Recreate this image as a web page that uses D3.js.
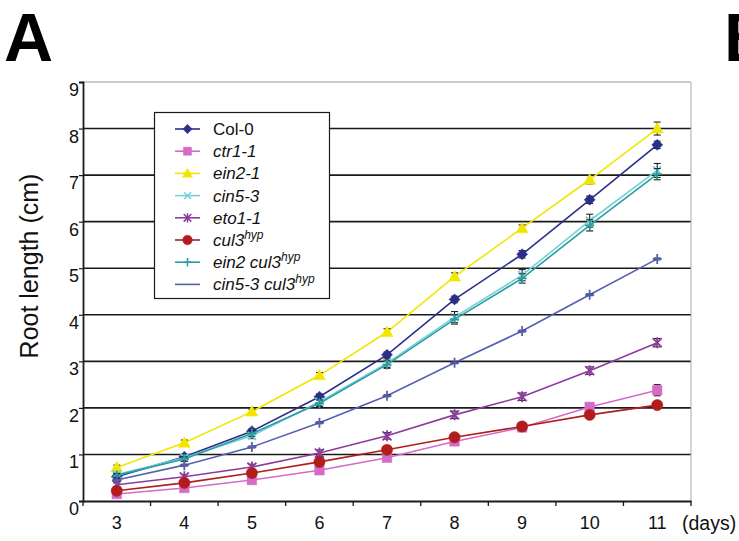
<!DOCTYPE html>
<html><head><meta charset="utf-8">
<script src="https://cdn.jsdelivr.net/npm/d3@7"></script>
<style>body{margin:0;background:#fff}svg{display:block;font-family:"Liberation Sans",Arial,Helvetica,sans-serif}</style>
</head><body><svg width="739" height="541"></svg>
<script>
// ---- data ----
const days = ["3","4","5","6","7","8","9","10","11"];
const yTicks = [0,1,2,3,4,5,6,7,8,9];
const col0      = [0.52,0.95,1.50,2.24,3.14,4.33,5.30,6.47,7.65];
const ctr1      = [0.15,0.28,0.45,0.66,0.93,1.28,1.58,2.02,2.38];
const ein21     = [0.72,1.25,1.92,2.70,3.63,4.82,5.86,6.90,8.00];
const cin53     = [0.57,0.93,1.40,2.13,2.96,3.95,4.85,6.02,7.10];
const eto11     = [0.35,0.52,0.73,1.03,1.40,1.85,2.24,2.80,3.40];
const cul3      = [0.22,0.39,0.60,0.84,1.10,1.37,1.60,1.85,2.06];
const ein2cul3  = [0.55,0.90,1.45,2.10,2.93,3.90,4.78,5.92,7.02];
const cin53cul3 = [0.45,0.77,1.16,1.68,2.26,2.97,3.65,4.43,5.20];
const col0Err      = [0.04,0.04,0.05,0.06,0.06,0.07,0.08,0.08,0.08];
const ctr1Err      = [0.03,0.03,0.04,0.05,0.06,0.08,0.08,0.08,0.12];
const ein21Err     = [0.05,0.06,0.05,0.06,0.07,0.08,0.07,0.09,0.14];
const cin53Err     = [0.04,0.05,0.06,0.07,0.09,0.12,0.12,0.14,0.15];
const eto11Err     = [0.04,0.05,0.06,0.07,0.07,0.08,0.08,0.08,0.09];
const cul3Err      = [0.03,0.04,0.04,0.05,0.06,0.07,0.07,0.06,0.06];
const ein2cul3Err  = [0.04,0.05,0.06,0.07,0.08,0.10,0.10,0.12,0.12];
const cin53cul3Err = [0.02,0.02,0.02,0.02,0.02,0.02,0.02,0.02,0.02];
const seriesNames = [
  [{t:"Col-0"}],
  [{t:"ctr1-1",i:true}],
  [{t:"ein2-1",i:true}],
  [{t:"cin5-3",i:true}],
  [{t:"eto1-1",i:true}],
  [{t:"cul3",i:true},{t:"hyp",i:true,sup:true}],
  [{t:"ein2 cul3",i:true},{t:"hyp",i:true,sup:true}],
  [{t:"cin5-3 cul3",i:true},{t:"hyp",i:true,sup:true}]
];
const seriesValues = [col0,ctr1,ein21,cin53,eto11,cul3,ein2cul3,cin53cul3];
const seriesErrors = [col0Err,ctr1Err,ein21Err,cin53Err,eto11Err,cul3Err,ein2cul3Err,cin53cul3Err];
const seriesColors = ["#2b2f8c","#d46cc6","#f2e600","#74d2d6","#8b3d9e","#b11d1d","#2a9ca3","#5560b2"];
const seriesMarkers = ["diamond","square","triangle","x","asterisk","circle","plus","plus"];
const legendMarkers = ["diamond","square","triangle","x","asterisk","circle","plus","none"];

// ---- layout ----
const svg = d3.select("svg");
const L = 83, R = 691, T = 82, B = 501;
const x = d3.scaleBand().domain(days).range([L, R]);
const y = d3.scaleLinear().domain([0, 9]).range([B, T]);
const cx = d => x(d) + x.bandwidth()/2;

// panel letters
svg.append("text").attr("x",4).attr("y",61).attr("font-size",68).attr("font-weight","bold").text("A");
svg.append("text").attr("x",724).attr("y",61).attr("font-size",68).attr("font-weight","bold").text("B");

// gridlines
svg.append("g").selectAll("line").data(yTicks.filter(v => v > 0)).join("line")
  .attr("x1", L).attr("x2", R).attr("y1", d => y(d)).attr("y2", d => y(d))
  .attr("stroke", d => d === 9 ? "#9a9a9a" : "#1a1a1a")
  .attr("stroke-width", d => d === 9 ? 1 : 1.6);
// right border
svg.append("line").attr("x1",R).attr("x2",R).attr("y1",T).attr("y2",B).attr("stroke","#aaa").attr("stroke-width",1);

// y axis
const yAxis = svg.append("g").attr("transform",`translate(${L},0)`)
  .call(d3.axisLeft(y).tickValues(yTicks).tickSize(4).tickPadding(4).tickFormat(d3.format("d")));
yAxis.select(".domain").attr("stroke","#1a1a1a").attr("stroke-width",1.8);
yAxis.selectAll(".tick line").attr("stroke","#1a1a1a").attr("stroke-width",1.2);
yAxis.selectAll(".tick text").attr("font-size",18).attr("fill","#111").attr("dy","0.75em").attr("x",-4)
  .attr("font-family","Liberation Sans, Arial, sans-serif");

// x axis
const xAxis = svg.append("g").attr("transform",`translate(0,${B})`)
  .call(d3.axisBottom(x).tickSize(0).tickPadding(15));
xAxis.select(".domain").attr("stroke","#1a1a1a").attr("stroke-width",1.8);
xAxis.selectAll(".tick text").attr("font-size",18).attr("fill","#111")
  .attr("font-family","Liberation Sans, Arial, sans-serif");
// category boundary ticks
const bounds = days.map(d => x(d)).concat([R]);
svg.append("g").selectAll("line").data(bounds).join("line")
  .attr("x1",d=>d).attr("x2",d=>d).attr("y1",B).attr("y2",B+5)
  .attr("stroke","#1a1a1a").attr("stroke-width",1.3);
svg.append("text").attr("x",682).attr("y",530).attr("font-size",19.5).attr("fill","#111").text("(days)");

// y title
svg.append("text").attr("transform","translate(38,266) rotate(-90)").attr("text-anchor","middle")
  .attr("font-size",25).attr("fill","#111").text("Root length (cm)");

// marker paths
function markerPath(type){
  switch(type){
    case "diamond": return "M0,-5.5L5.5,0L0,5.5L-5.5,0Z";
    case "square": return "M-4.8,-4.8H4.8V4.8H-4.8Z";
    case "triangle": return "M0,-6L6,4.5L-6,4.5Z";
    case "circle": return d3.symbol(d3.symbolCircle, 100)();
    case "x": return "M-4,-4L4,4M-4,4L4,-4";
    case "asterisk": return "M-4.5,-4.5L4.5,4.5M-4.5,4.5L4.5,-4.5M0,-5.5V5.5";
    case "plus": return "M-4.5,0H4.5M0,-5V5";
    default: return "";
  }
}
const filled = t => ["diamond","square","triangle","circle"].includes(t);
function drawMarker(g, type, color){
  g.append("path").attr("d", markerPath(type))
    .attr("fill", filled(type) ? color : "none")
    .attr("stroke", color).attr("stroke-width", filled(type) ? 0.5 : 1.8);
}

// series
const line = d3.line().x((d,i) => cx(days[i])).y(d => y(d));
seriesValues.forEach((vals, si) => {
  const g = svg.append("g");
  const color = seriesColors[si];
  g.append("path").datum(vals).attr("d", line).attr("fill","none")
    .attr("stroke", color).attr("stroke-width", 1.6);
  // error bars
  vals.forEach((v, i) => {
    const e = seriesErrors[si][i], px = cx(days[i]);
    const eg = g.append("g").attr("stroke","#222").attr("stroke-width",1.1);
    eg.append("line").attr("x1",px).attr("x2",px).attr("y1",y(v-e)).attr("y2",y(v+e));
    eg.append("line").attr("x1",px-3.5).attr("x2",px+3.5).attr("y1",y(v-e)).attr("y2",y(v-e));
    eg.append("line").attr("x1",px-3.5).attr("x2",px+3.5).attr("y1",y(v+e)).attr("y2",y(v+e));
  });
  vals.forEach((v, i) => {
    const mg = g.append("g").attr("transform",`translate(${cx(days[i])},${y(v)})`);
    drawMarker(mg, seriesMarkers[si], color);
  });
});

// legend
const lg = svg.append("g");
lg.append("rect").attr("x",154.5).attr("y",112.5).attr("width",175).attr("height",186)
  .attr("fill","#fff").attr("stroke","#1a1a1a").attr("stroke-width",1.2);
seriesNames.forEach((parts, si) => {
  const ry = 129 + si*22.2;
  const color = seriesColors[si];
  lg.append("line").attr("x1",175).attr("x2",200).attr("y1",ry).attr("y2",ry)
    .attr("stroke",color).attr("stroke-width",1.6);
  const mg = lg.append("g").attr("transform",`translate(187.5,${ry}) scale(0.85)`);
  drawMarker(mg, legendMarkers[si], color);
  const tx = lg.append("text").attr("x",213).attr("y",ry+6).attr("font-size",17).attr("fill","#111");
  parts.forEach(p => {
    const ts = tx.append("tspan").text(p.t).attr("font-style", p.i ? "italic" : "normal");
    if (p.sup) ts.attr("font-size",12).attr("dy","-0.6em");
  });
});
</script></body></html>
